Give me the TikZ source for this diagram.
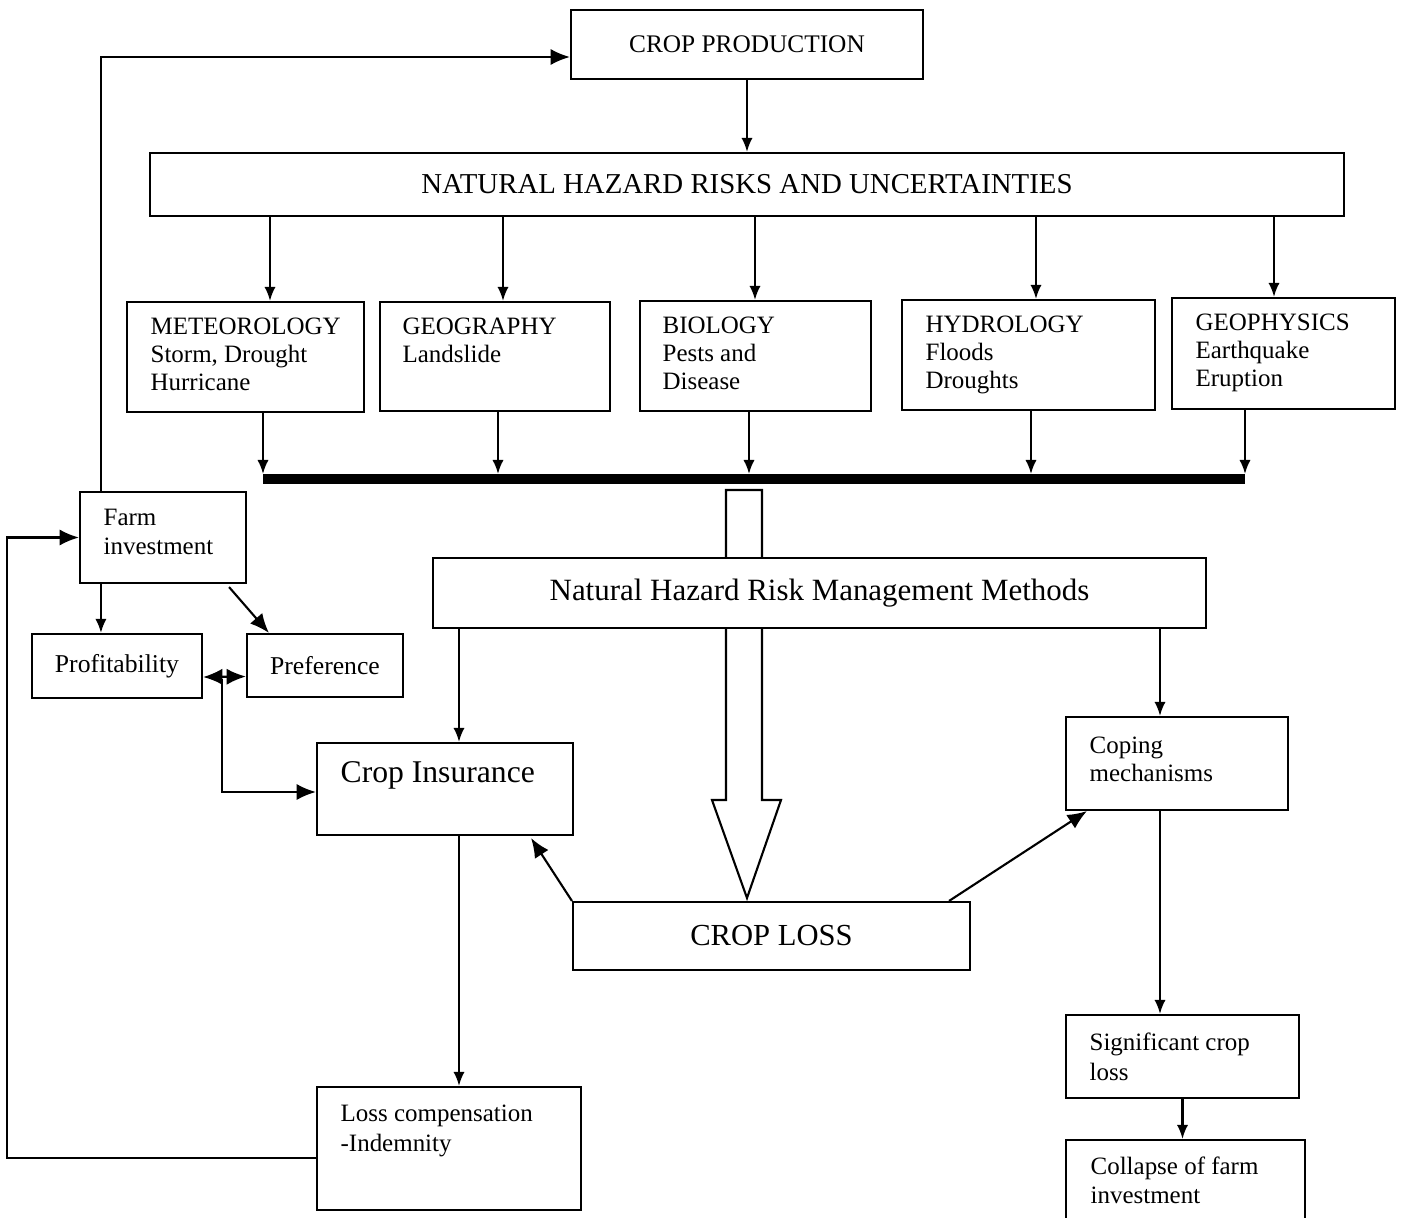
\documentclass[tikz,border=0pt]{standalone}
\usepackage{fontspec}
\setmainfont{Liberation Serif}
\usetikzlibrary{arrows.meta,calc}

\tikzset{
  box/.style={draw, line width=0.6pt, fill=white, inner sep=0pt},
  wh/.style 2 args={minimum width=#1*0.01cm, minimum height=#2*0.01cm},
  txt/.style={anchor=north west, inner sep=0pt, align=left, font=\fontsize{7.1}{8}\selectfont},
  arr/.style={line width=0.6pt, -{Latex[length=4pt,width=3.2pt]}},
  arrb/.style={line width=0.6pt, -{Latex[length=5.5pt,width=4.6pt]}},
  arrbb/.style={line width=0.6pt, {Latex[length=5.5pt,width=4.6pt]}-{Latex[length=5.5pt,width=4.6pt]}},
}

\begin{document}
\begin{tikzpicture}[x=0.01cm,y=-0.01cm]
\clip (0,0) rectangle (1402,1218);

% top part
\node[box,wh={352}{69},font=\fontsize{7.2}{8}\selectfont] (prod) at (747,44.5) {CROP PRODUCTION};
\node[box,wh={1194}{63},font=\fontsize{8.2}{9}\selectfont] (risks) at (747,184.5) {NATURAL HAZARD RISKS AND UNCERTAINTIES};
\draw[arr] (prod) -- (risks);

% hazard types
\node[box,wh={237}{110}] (met) at (245.5,357) {};
\node[txt] (met-t) at ($(met.north west)+(24,16)$) {METEOROLOGY\\Storm, Drought\\Hurricane};
\node[box,wh={230}{109}] (geo) at (495,356.5) {};
\node[txt] (geo-t) at ($(geo.north west)+(23,16)$) {GEOGRAPHY\\Landslide};
\node[box,wh={231}{110}] (bio) at (755.5,356) {};
\node[txt] (bio-t) at ($(bio.north west)+(23,16)$) {BIOLOGY\\Pests and\\Disease};
\node[box,wh={253}{110}] (hyd) at (1028.5,355) {};
\node[txt] (hyd-t) at ($(hyd.north west)+(24,16)$) {HYDROLOGY\\Floods\\Droughts};
\node[box,wh={223}{111}] (gph) at (1283.5,353.5) {};
\node[txt] (gph-t) at ($(gph.north west)+(24,16)$) {GEOPHYSICS\\Earthquake\\Eruption};

\foreach \b/\x in {met/270,geo/503,bio/755,hyd/1036,gph/1274} {
  \coordinate (tmp) at (\x,0);
  \draw[arr] (risks.south -| tmp) -- (\b.north -| tmp);
}

% thick bar
\coordinate (bar-w) at (263,479);
\coordinate (bar-e) at (1245,479);
\draw[line width=2.8pt] (bar-w) -- (bar-e);
\foreach \b/\x in {met/263,geo/498,bio/749,hyd/1031,gph/1245} {
  \coordinate (tmp) at (\x,474);
  \draw[arr] (\b.south -| tmp) -- (tmp);
}

% hollow arrow to crop loss
\draw[line width=0.6pt,fill=white] (726,490) -- (726,800) -- (712,800) -- (747,898)
  -- (781,800) -- (762,800) -- (762,490) -- cycle;

\node[box,wh={773}{70},font=\fontsize{8.8}{10}\selectfont] (mgmt) at (819.5,593) {Natural Hazard Risk Management Methods};

% left side
\node[box,wh={166}{91}] (farm) at (163,537.5) {};
\node[txt] (farm-t) at ($(farm.north west)+(24,18)$) {Farm\\investment};
\node[box,wh={170}{64},font=\fontsize{7.3}{8}\selectfont] (prof) at (117,666) {Profitability};
\node[box,wh={156}{63},font=\fontsize{7.3}{8}\selectfont] (pref) at (325,665.5) {Preference};

\node[box,wh={256}{92}] (ins) at (445,789) {};
\node[txt,font=\fontsize{9}{10}\selectfont] (ins-t) at ($(ins.north west)+(24,19)$) {Crop Insurance};
\node[box,wh={264}{123}] (comp) at (449,1148.5) {};
\node[txt,font=\fontsize{7.1}{8.6}\selectfont] (comp-t) at ($(comp.north west)+(24,18)$) {Loss compensation\\-Indemnity};

\node[box,wh={397}{68},font=\fontsize{8.7}{10}\selectfont] (loss) at (771.5,936) {CROP LOSS};

% right side
\node[box,wh={222}{93}] (cope) at (1177,763.5) {};
\node[txt] (cope-t) at ($(cope.north west)+(24,20)$) {Coping\\mechanisms};
\node[box,wh={233}{83}] (sig) at (1182.5,1056.5) {};
\node[txt,font=\fontsize{7.1}{8.5}\selectfont] (sig-t) at ($(sig.north west)+(24,18)$) {Significant crop\\loss};
\node[box,wh={239}{84}] (col) at (1185.5,1182) {};
\node[txt,font=\fontsize{7.1}{8.3}\selectfont] (col-t) at ($(col.north west)+(25,17)$) {Collapse of farm\\investment};

% connectors
\coordinate (fn) at ($(farm.north west)+(22,0)$);
\coordinate (fs) at ($(farm.south west)+(22,0)$);
\draw[arrb] (fn) |- ($(prod.west)+(0,12.5)$);
\draw[arr] (fs) -- (fs |- prof.north);
\draw[arrb] ($(farm.south east)+(-18,3)$) -- ($(pref.north west)+(23,0)$);
\draw[arrbb] ($(prof.east)+(0,11)$) -- ($(pref.west)+(0,11)$);
\coordinate (pp) at ($(prof.east)!0.45!(pref.west)+(0,13)$);
\draw[arrb] (pp) |- ($(ins.west)+(0,3)$);

\coordinate (tmp) at (459,0);
\draw[arr] (mgmt.south -| tmp) -- (ins.north -| tmp);
\draw[arr] (ins.south -| tmp) -- (comp.north -| tmp);
\draw[arrb] ($(comp.west)+(0,9.5)$) -- ++(-309,0) |- (farm.west);

\coordinate (tmp) at (1160,0);
\draw[arr] (mgmt.south -| tmp) -- (cope.north -| tmp);
\draw[arr] (cope.south -| tmp) -- (sig.north -| tmp);
\draw[arr] (sig.south) -- (sig.south |- col.north);

\draw[arrb] (loss.north west) -- ($(ins.south east)+(-43,2)$);
\draw[arrb] ($(loss.north east)+(-22,0)$) -- ($(cope.south west)+(22,0)$);
\end{tikzpicture}
\end{document}
